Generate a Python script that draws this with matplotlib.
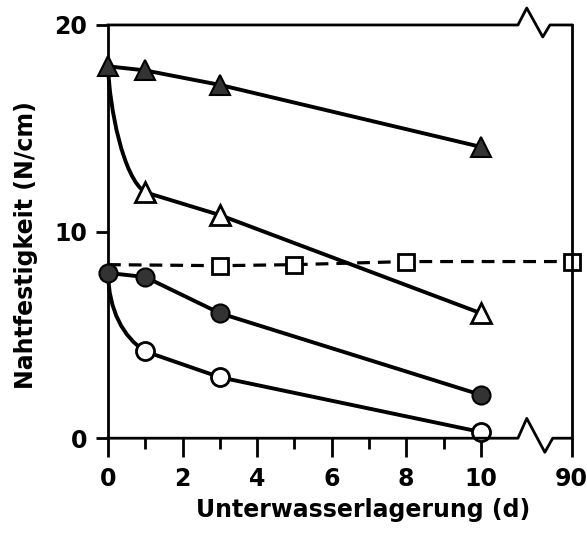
import numpy as np
import matplotlib
matplotlib.use("Agg")
import matplotlib.pyplot as plt
from matplotlib.path import Path
from matplotlib.patches import PathPatch

# days under water, values in N/cm
days = [0, 1, 3, 10]
tri_filled = [18.0, 17.8, 17.1, 14.1]
tri_open = [18.0, 11.9, 10.8, 6.05]
circ_filled = [8.0, 7.8, 6.05, 2.1]
circ_open = [8.0, 4.2, 2.95, 0.3]
sq_days = [0, 3, 5, 8, 90]
sq_vals = [8.4, 8.35, 8.4, 8.55, 8.55]

xtick_vals = [0, 2, 4, 6, 8, 10, 90]
xtick_labels = ["0", "2", "4", "6", "8", "10", "90"]

BREAK_POS = 12.44  # where day 90 sits on the broken axis


def xpos(d):
    return [BREAK_POS if v > 10 else v for v in d]


plt.rcParams['font.family'] = ['DejaVu Sans']

fig = plt.figure(figsize=(5.87, 5.43), dpi=100)
ax = fig.add_axes([0.184, 0.193, 0.79, 0.761])
ax.set_xlim(0, BREAK_POS)
ax.set_ylim(0, 20)

lw = 2.8
k = 'black'
dark = '#333333'


def curve(x0, y0, x1, y1, c1, c2):
    # hand-drawn fit between the first two points
    p = Path([(x0, y0), c1, c2, (x1, y1)],
             [Path.MOVETO, Path.CURVE4, Path.CURVE4, Path.CURVE4])
    ax.add_patch(PathPatch(p, fill=False, lw=lw, edgecolor=k, zorder=2,
                           clip_on=False, capstyle='round'))


# dashed square series
ax.plot(xpos(sq_days), sq_vals, ls=(0, (4, 2.5)), lw=2.3, color=k, zorder=2,
        marker='s', ms=11, mfc='white', mec=k, mew=2, markevery=[1, 2, 3, 4],
        clip_on=False)

# filled triangles
ax.plot(days, tri_filled, color=k, lw=lw, zorder=3, marker='^', ms=14,
        mfc=dark, mec=k, mew=1.5, clip_on=False)

# open triangles
curve(days[0], tri_open[0], days[1], tri_open[1], (0.04, 16.0), (0.4, 12.6))
ax.plot(days[1:], tri_open[1:], color=k, lw=lw, zorder=3, marker='^', ms=14,
        mfc='white', mec=k, mew=2, clip_on=False)

# filled circles
ax.plot(days, circ_filled, color=k, lw=lw, zorder=4, marker='o', ms=13,
        mfc=dark, mec=k, mew=1.5, clip_on=False)

# open circles
curve(days[0], circ_open[0], days[1], circ_open[1], (0.02, 6.2), (0.4, 4.9))
ax.plot(days[1:], circ_open[1:], color=k, lw=lw, zorder=3, marker='o', ms=13,
        mfc='white', mec=k, mew=2, clip_on=False)

# spines: top and bottom drawn by hand with the axis break
for s in ['top', 'bottom']:
    ax.spines[s].set_visible(False)
for s in ['left', 'right']:
    ax.spines[s].set_linewidth(2)

bx = [0, 0.884, 0.903, 0.9375, 0.953, 1.0]
ax.plot(bx, [1, 1, 1.041, 0.971, 1.0, 1.0], transform=ax.transAxes,
        color=k, lw=2, clip_on=False, zorder=5)
ax.plot([0, 0.884, 0.903, 0.942, 0.959, 1.0], [0, 0, 0.048, -0.034, 0, 0],
        transform=ax.transAxes, color=k, lw=2, clip_on=False, zorder=5)

ax.set_xticks(xpos(xtick_vals))
ax.set_xticklabels(xtick_labels, fontweight='bold')
ax.set_xticks([1, 3, 5, 7, 9], minor=True)
ax.set_yticks([0, 10, 20])
ax.set_yticklabels(["0", "10", "20"], fontweight='bold')
ax.tick_params(axis='x', which='major', direction='out', length=14, width=2,
               pad=7, labelsize=17)
ax.tick_params(axis='x', which='minor', direction='out', length=8, width=2)
ax.tick_params(axis='y', which='major', direction='out', length=9, width=2,
               pad=6, labelsize=17)
ax.tick_params(axis='y', which='minor', left=False)

ax.set_xlabel("Unterwasserlagerung (d)", fontsize=17, fontweight='bold')
ax.set_ylabel("Nahtfestigkeit (N/cm)", fontsize=17, fontweight='bold')
ax.xaxis.set_label_coords(0.55, -0.174)
ax.yaxis.set_label_coords(-0.177, 0.467)
ax.xaxis.label.set_va('center')
ax.yaxis.label.set_va('center')

fig.savefig("out.png", dpi=100)
